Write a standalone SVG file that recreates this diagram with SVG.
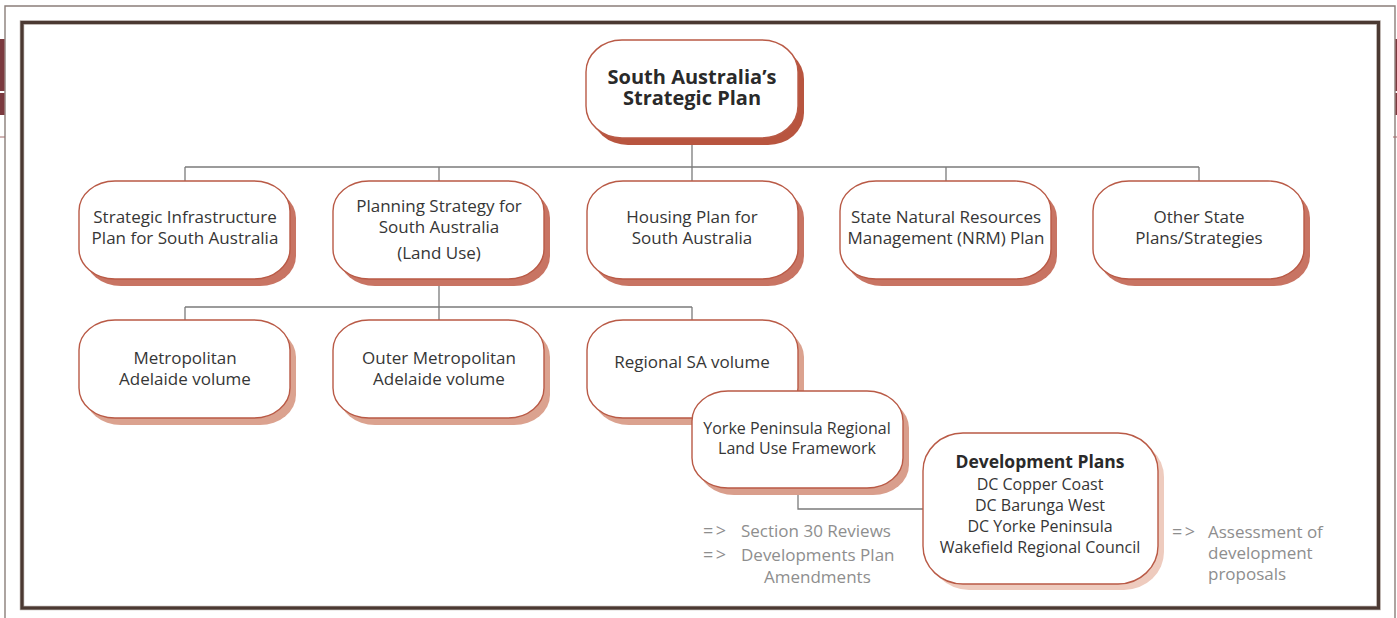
<svg xmlns="http://www.w3.org/2000/svg" width="1397" height="618" viewBox="0 0 1397 618">
<style>
.box{fill:#ffffff;stroke:#b95a46;stroke-width:1.4}
.t{font-family:"Open Sans","Noto Sans","Liberation Sans",sans-serif;font-size:17px;fill:#363636;text-anchor:middle}
.s16{font-size:16px}
.b{font-weight:bold;font-size:20px;fill:#2a2a2a}
.g{font-family:"Open Sans","Noto Sans","Liberation Sans",sans-serif;font-size:17px;fill:#8e8e8e}
.ar{letter-spacing:2.5px;font-size:18px}
.con{fill:none;stroke:#7b7b7b;stroke-width:1.3}
</style>
<rect x="0" y="0" width="1397" height="618" fill="#ffffff"/>
<g id="frame">
<path d="M5,618 V6 H1395 V618" fill="none" stroke="#8a7e79" stroke-width="1.4"/>
<rect x="0" y="39" width="4.5" height="52" fill="#7b3a3f"/>
<rect x="0" y="93" width="4.5" height="22" fill="#7b3a3f"/>
<line x1="0" y1="137" x2="5" y2="137" stroke="#a06a6a" stroke-width="1"/>
<rect x="1395.5" y="39" width="1.5" height="52" fill="#7b3a3f"/>
<rect x="1395.5" y="93" width="1.5" height="22" fill="#7b3a3f"/>
<line x1="1393" y1="137" x2="1397" y2="137" stroke="#a06a6a" stroke-width="1"/>
<rect x="22" y="22.5" width="1356.5" height="585.5" fill="none" stroke="#a59a95" stroke-width="4.4"/>
<rect x="22" y="22.5" width="1356.5" height="585.5" fill="none" stroke="#4b3932" stroke-width="3"/>
</g>
<g id="connectors">
<path class="con" d="M692,140 V167 M185,167 H1199 M185,167 V181 M439,167 V181 M692,167 V181 M946,167 V181 M1199,167 V181"/>
<path class="con" d="M439,281 V307 M185,307 H692 M185,307 V320 M439,307 V320 M692,307 V320"/>
<path class="con" d="M798,490 V509 H923"/>
</g>
<g id="n-top">
<rect x="592" y="47" width="212" height="98" rx="36" ry="32" fill="#b8553f"/>
<rect class="box" x="586" y="40" width="212" height="98" rx="36" ry="32"/>
<text class="t b"><tspan x="692" y="84">South Australia’s</tspan><tspan x="692" y="105">Strategic Plan</tspan></text>
</g>
<g id="n-infra">
<rect x="85" y="188" width="211" height="98" rx="36" ry="30" fill="#c87463"/>
<rect class="box" x="79" y="181" width="211" height="98" rx="36" ry="30"/>
<text class="t"><tspan x="185" y="223">Strategic Infrastructure</tspan><tspan x="185" y="244">Plan for South Australia</tspan></text>
</g>
<g id="n-planning">
<rect x="339" y="188" width="211" height="98" rx="36" ry="30" fill="#c87463"/>
<rect class="box" x="333" y="181" width="211" height="98" rx="36" ry="30"/>
<text class="t"><tspan x="439" y="212">Planning Strategy for</tspan><tspan x="439" y="233">South Australia</tspan><tspan x="439" y="259">(Land Use)</tspan></text>
</g>
<g id="n-housing">
<rect x="593" y="188" width="211" height="98" rx="36" ry="30" fill="#c87463"/>
<rect class="box" x="587" y="181" width="211" height="98" rx="36" ry="30"/>
<text class="t"><tspan x="692" y="223">Housing Plan for</tspan><tspan x="692" y="244">South Australia</tspan></text>
</g>
<g id="n-nrm">
<rect x="846" y="188" width="211" height="98" rx="36" ry="30" fill="#c87463"/>
<rect class="box" x="840" y="181" width="211" height="98" rx="36" ry="30"/>
<text class="t"><tspan x="946" y="223">State Natural Resources</tspan><tspan x="946" y="244">Management (NRM) Plan</tspan></text>
</g>
<g id="n-other">
<rect x="1099" y="188" width="211" height="98" rx="36" ry="30" fill="#c87463"/>
<rect class="box" x="1093" y="181" width="211" height="98" rx="36" ry="30"/>
<text class="t"><tspan x="1199" y="223">Other State</tspan><tspan x="1199" y="244">Plans/Strategies</tspan></text>
</g>
<g id="n-metro">
<rect x="85" y="327" width="211" height="98" rx="36" ry="30" fill="#dba28f"/>
<rect class="box" x="79" y="320" width="211" height="98" rx="36" ry="30"/>
<text class="t"><tspan x="185" y="364">Metropolitan</tspan><tspan x="185" y="385">Adelaide volume</tspan></text>
</g>
<g id="n-outer">
<rect x="339" y="327" width="211" height="98" rx="36" ry="30" fill="#dba28f"/>
<rect class="box" x="333" y="320" width="211" height="98" rx="36" ry="30"/>
<text class="t"><tspan x="439" y="364">Outer Metropolitan</tspan><tspan x="439" y="385">Adelaide volume</tspan></text>
</g>
<g id="n-regional">
<rect x="593" y="327" width="211" height="98" rx="36" ry="30" fill="#dba28f"/>
<rect class="box" x="587" y="320" width="211" height="98" rx="36" ry="30"/>
<text class="t" x="692" y="368">Regional SA volume</text>
</g>
<g id="n-yorke">
<rect x="698" y="398" width="211" height="97" rx="36" ry="30" fill="#d99e8c"/>
<rect class="box" x="692" y="391" width="211" height="97" rx="36" ry="30"/>
<text class="t s16"><tspan x="797" y="434">Yorke Peninsula Regional</tspan><tspan x="797" y="454">Land Use Framework</tspan></text>
</g>
<g id="n-dev">
<rect x="929" y="439" width="235" height="151" rx="40" ry="38" fill="#eecbbe"/>
<rect class="box" x="923" y="433" width="235" height="151" rx="40" ry="38"/>
<text class="t s16"><tspan x="1040" y="468" style="font-weight:bold;font-size:17.5px;fill:#2a2a2a">Development Plans</tspan><tspan x="1040" y="490">DC Copper Coast</tspan><tspan x="1040" y="511">DC Barunga West</tspan><tspan x="1040" y="532">DC Yorke Peninsula</tspan><tspan x="1040" y="553">Wakefield Regional Council</tspan></text>
</g>
<g id="notes">
<text class="g"><tspan class="ar" x="703" y="537">=&gt;</tspan><tspan x="741" y="537">Section 30 Reviews</tspan><tspan class="ar" x="703" y="561">=&gt;</tspan><tspan x="741" y="561">Developments Plan</tspan><tspan x="764" y="583">Amendments</tspan></text>
<text class="g"><tspan class="ar" x="1172" y="538">=&gt;</tspan><tspan x="1208" y="538">Assessment of</tspan><tspan x="1208" y="559">development</tspan><tspan x="1208" y="580">proposals</tspan></text>
</g>
</svg>
